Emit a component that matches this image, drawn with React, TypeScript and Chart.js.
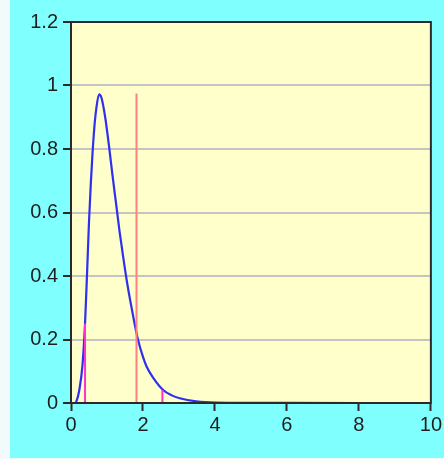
import React, { useEffect, useRef } from "react";
import { Chart, registerables } from "chart.js";

Chart.register(...registerables);

// Density curve
const curveX = [0, 0.1, 0.15, 0.23, 0.32, 0.39, 0.45, 0.5, 0.55, 0.6, 0.65, 0.7, 0.78, 0.85, 0.95, 1.05, 1.15, 1.25, 1.35, 1.45, 1.55, 1.65, 1.75, 1.85, 2.0, 2.1, 2.28, 2.56, 2.8, 3.02, 3.48, 4.04, 5, 6, 8, 10];
const curveY = [0, 0, 0.005, 0.04, 0.12, 0.25, 0.42, 0.57, 0.69, 0.79, 0.87, 0.925, 0.972, 0.96, 0.9, 0.815, 0.72, 0.63, 0.54, 0.46, 0.385, 0.32, 0.26, 0.205, 0.145, 0.115, 0.08, 0.041, 0.024, 0.015, 0.005, 0.001, 0.0003, 0.0001, 0, 0];

// Marker lines: [x, top value]
const redMarkerX = [1.82, 1.82];
const redMarkerY = [0, 0.975];
const lowMarkerX = [0.39, 0.39];
const lowMarkerY = [0, 0.25];
const highMarkerX = [2.54, 2.54];
const highMarkerY = [0, 0.041];

const xTickValues = [0, 2, 4, 6, 8, 10];
const xTickLabels = ["0", "2", "4", "6", "8", "10"];
const yTickValues = [0, 0.2, 0.4, 0.6, 0.8, 1, 1.2];
const yTickLabels = ["0", "0.2", "0.4", "0.6", "0.8", "1", "1.2"];

const pts = (xs: number[], ys: number[]) => xs.map((x, i) => ({ x, y: ys[i] }));

const framePlugin = {
  id: "frame",
  beforeDraw(chart: any) {
    const { ctx, chartArea: a } = chart;
    ctx.save();
    ctx.fillStyle = "#FFFFCC";
    ctx.fillRect(a.left, a.top, a.right - a.left, a.bottom - a.top);
    ctx.restore();
  },
  afterDraw(chart: any) {
    const { ctx, chartArea: a } = chart;
    ctx.save();
    ctx.strokeStyle = "#2a2a2a";
    ctx.lineWidth = 2;
    ctx.strokeRect(a.left, a.top, a.right - a.left, a.bottom - a.top);
    ctx.restore();
  },
};

export default function App() {
  const ref = useRef<HTMLCanvasElement | null>(null);

  useEffect(() => {
    document.body.style.margin = "0";
    const canvas = ref.current;
    if (!canvas) return;
    const font = { family: "'Liberation Sans', Arial, sans-serif", size: 20 };
    const chart = new Chart(canvas, {
      type: "line",
      data: {
        datasets: [
          { data: pts(lowMarkerX, lowMarkerY), borderColor: "#ff33cc", borderWidth: 2, pointRadius: 0 },
          { data: pts(highMarkerX, highMarkerY), borderColor: "#ff33cc", borderWidth: 2, pointRadius: 0 },
          { data: pts(redMarkerX, redMarkerY), borderColor: "#ff8080", borderWidth: 2, pointRadius: 0 },
          {
            data: pts(curveX, curveY),
            borderColor: "#2f2ff0",
            borderWidth: 2.2,
            pointRadius: 0,
            cubicInterpolationMode: "monotone",
          },
        ],
      },
      options: {
        animation: false,
        responsive: false,
        plugins: { legend: { display: false }, tooltip: { enabled: false } },
        layout: { padding: { left: 0, right: 12, top: 22, bottom: 0 } },
        scales: {
          x: {
            type: "linear",
            min: 0,
            max: 10,
            afterBuildTicks: (s: any) => {
              s.ticks = xTickValues.map((v) => ({ value: v }));
            },
            afterFit: (s: any) => {
              s.height = 55;
            },
            ticks: {
              callback: (v: any) => xTickLabels[xTickValues.indexOf(Number(v))] ?? "",
              color: "#1e1e1e",
              font,
              padding: 2,
              maxRotation: 0,
            },
            grid: { drawOnChartArea: false, tickLength: 8, tickColor: "#2a2a2a", tickWidth: 2 },
            border: { color: "#2a2a2a", width: 2 },
          },
          y: {
            type: "linear",
            min: 0,
            max: 1.2,
            afterBuildTicks: (s: any) => {
              s.ticks = yTickValues.map((v) => ({ value: v }));
            },
            afterFit: (s: any) => {
              s.width = 61;
            },
            ticks: {
              callback: (v: any) => {
                const i = yTickValues.findIndex((t) => Math.abs(t - Number(v)) < 1e-9);
                return i >= 0 ? yTickLabels[i] : "";
              },
              color: "#1e1e1e",
              font,
              padding: 5,
            },
            grid: { color: "#c4c4c4", lineWidth: 2, tickLength: 8, tickColor: "#2a2a2a", tickWidth: 2 },
            border: { color: "#2a2a2a", width: 2 },
          },
        },
      },
      plugins: [framePlugin],
    } as any);
    return () => chart.destroy();
  }, []);

  return (
    <div style={{ position: "relative", width: 444, height: 459, background: "#F2FAFC" }}>
      <div style={{ position: "absolute", left: 10, top: 0, width: 434, height: 458, background: "#80FFFF" }}>
        <canvas ref={ref} width={434} height={458} />
      </div>
    </div>
  );
}
